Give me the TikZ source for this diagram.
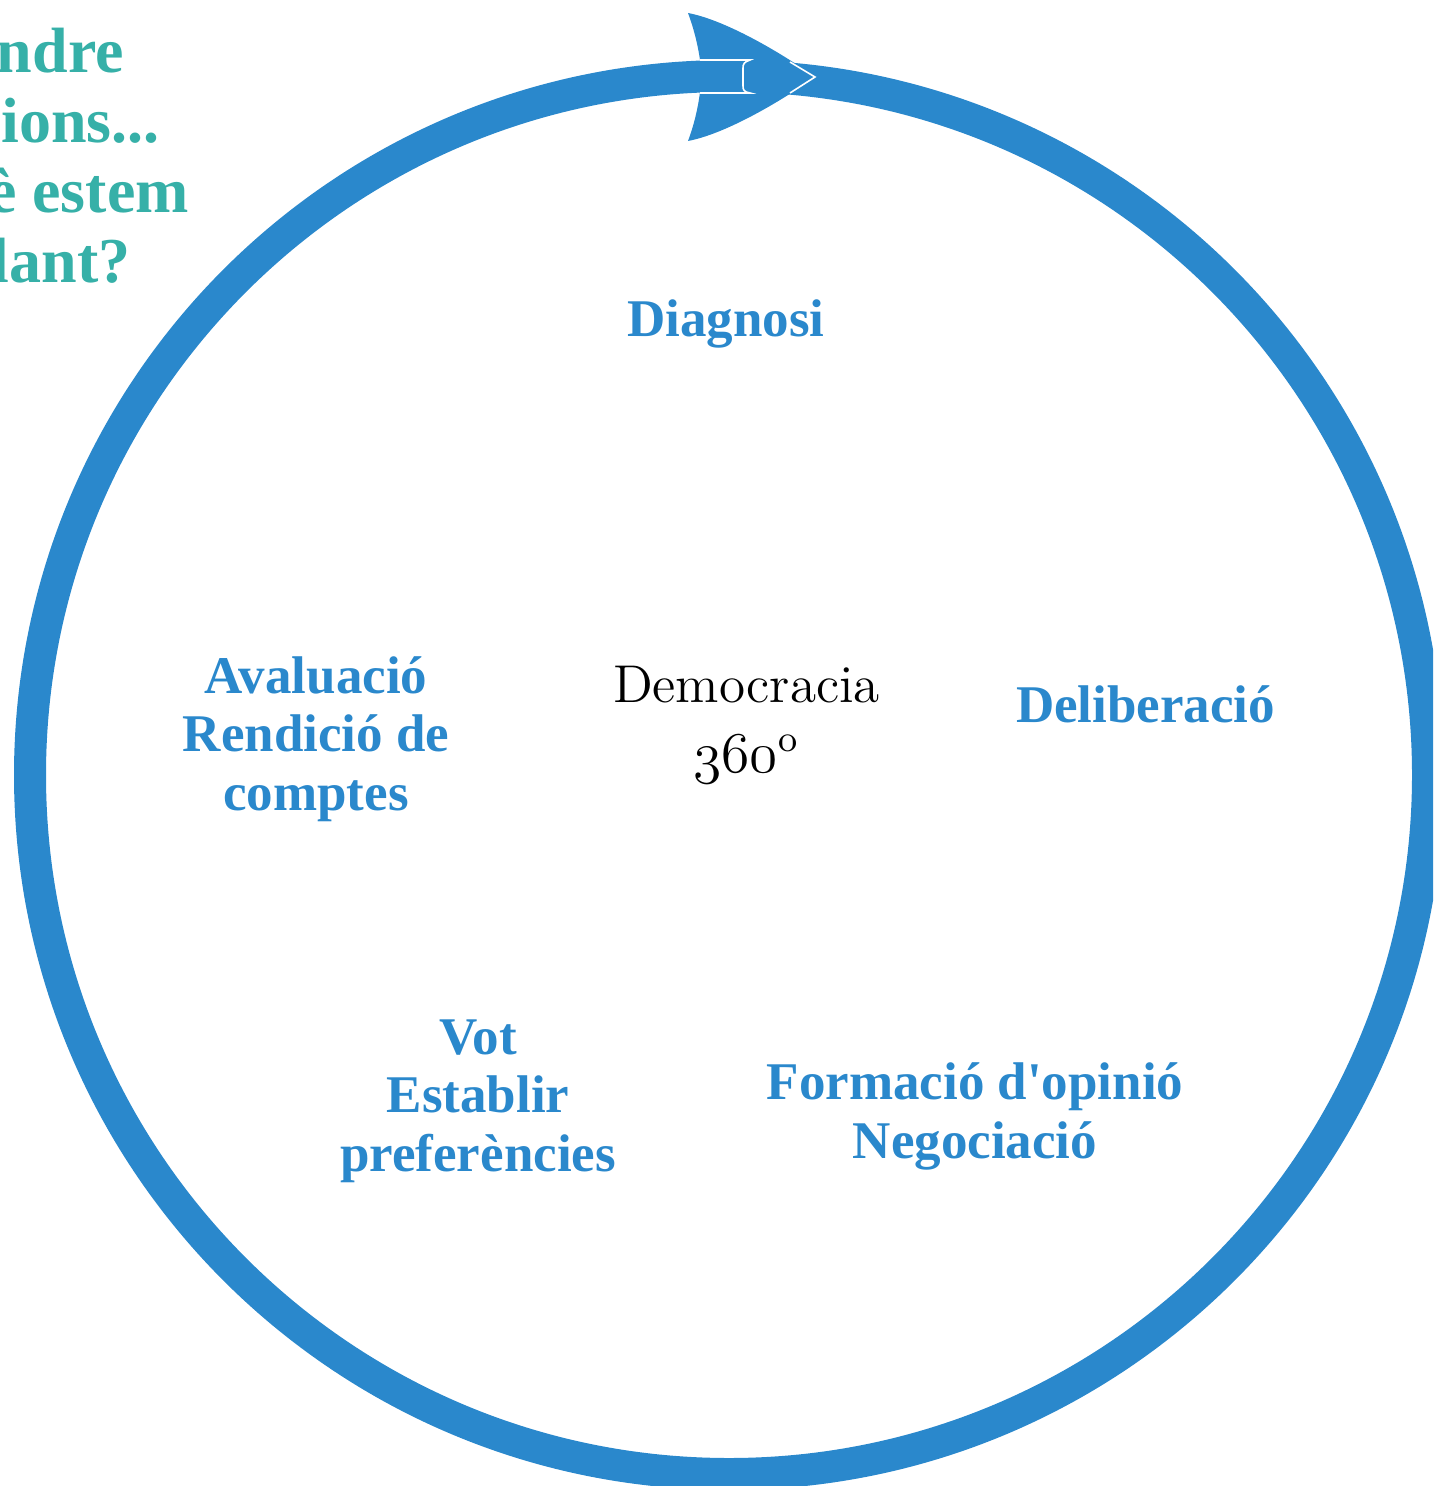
\documentclass[tikz,border=0pt]{standalone}
\usepackage{fontspec}
\setmainfont{Liberation Serif}
\newfontfamily\lmfont{Latin Modern Roman}
\definecolor{ringblue}{RGB}{42,136,204}
\definecolor{headteal}{RGB}{54,176,168}

\begin{document}
\begin{tikzpicture}[
    x=0.25pt, y=-0.25pt,
    ring/.style={draw=ringblue, line width=8pt},
    seam/.style={draw=white, line width=0.4pt},
    stage/.style={text=ringblue, font=\bfseries\fontsize{13.25}{14.6}\selectfont, align=center, anchor=base, inner sep=0pt},
    heading/.style={text=headteal, font=\bfseries\fontsize{16}{17.5}\selectfont, align=center, anchor=base, inner sep=0pt},
    core/.style={font=\lmfont\fontsize{13.3}{17.5}\selectfont, align=center, anchor=base, inner sep=0pt}
]
\useasboundingbox (0,0) rectangle (1433,1486);
\begin{scope}
\clip (0,0) rectangle (1433,1486);

\coordinate (centre) at (729,775);
\coordinate (tip) at (815,77);

\draw[ring] (centre) circle (699);
\fill[ringblue] (688,13) .. controls (725,20) and (780,52) .. (tip)
    .. controls (780,102) and (725,134) .. (688,141)
    .. controls (694,125) and (698,108) .. (700,92) -- (700,60)
    .. controls (698,46) and (694,29) .. (688,13);
\draw[seam] (700,60) -- (750,60) .. controls (744,62) and (743,64) .. (743,68) -- (743,86)
    .. controls (743,90) and (744,92) .. (750,93) -- (700,93);
\draw[seam] (790,62) -- (tip) -- (790,93);

\node[heading] (question) at (13,283) {Prendre\\decisions...\\de què estem\\parlant?};

\node[stage] (diagnosi) at (726,337) {Diagnosi};
\node[stage] (deliberacio) at (1145.5,722) {Deliberació};
\node[stage] (formacio) at (975,1158) {Formació d\textquotesingle opinió\\Negociació};
\node[stage] (vot) at (478,1171) {Vot\\Establir\\preferències};
\node[stage] (avaluacio) at (316,810) {Avaluació\\Rendició de\\comptes};

\node[core] (democracia) at (746.5,772) {Democracia\\$\mathnormal{360}$\textsuperscript{o}};
\end{scope}
\end{tikzpicture}
\end{document}
